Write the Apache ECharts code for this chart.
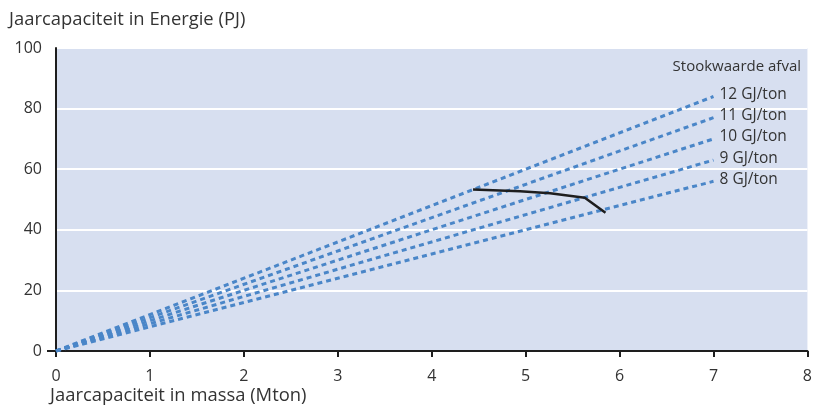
<!DOCTYPE html>
<html><head><meta charset="utf-8">
<script src="https://cdn.jsdelivr.net/npm/echarts@6/dist/echarts.min.js"></script>
<style>html,body{margin:0;padding:0;background:#fff}#c{width:815px;height:407px}</style>
</head><body><div id="c"></div>
<script>
// Stookwaarde lines (Mton, PJ)
const heatValues = ['12 GJ/ton','11 GJ/ton','10 GJ/ton','9 GJ/ton','8 GJ/ton'];
const line12 = [[0,0],[7,84]];
const line11 = [[0,0],[7,77]];
const line10 = [[0,0],[7,70]];
const line9  = [[0,0],[7,63]];
const line8  = [[0,0],[7,56]];
const capacityCurve = [[4.44,53.3],[4.94,52.7],[5.26,52.1],[5.63,50.6],[5.85,45.6]];
const xTicks = [0,1,2,3,4,5,6,7,8];
const yTicks = [0,20,40,60,80,100];

const FONT = 'Open Sans';
const lines = [line12,line11,line10,line9,line8];
const series = lines.map((d,i)=>({
  type:'line', data:d, symbol:'none', silent:true,
  lineStyle:{color:'#4a86c8', width:3, type:[5,4]},
  endLabel:{show:true, formatter:heatValues[i], color:'#333333', fontFamily:FONT, fontSize:15.5, offset:[2,-2], distance:4}
}));
series.push({type:'line', data:capacityCurve, symbol:'none', smooth:false,
  lineStyle:{color:'#1e1e1e', width:2.5}});

const chart = echarts.init(document.getElementById('c'));
chart.setOption({
  animation:false,
  grid:{left:56, right:7, top:48, bottom:56, show:true, backgroundColor:'#d7dff0', borderWidth:0},
  xAxis:{type:'value', min:0, max:8, interval:1,
    axisLine:{show:true, lineStyle:{color:'#1e1e1e', width:2}},
    axisTick:{show:true, length:6, lineStyle:{color:'#1e1e1e', width:2}},
    axisLabel:{color:'#333333', fontFamily:FONT, fontSize:16, margin:17, formatter:v=>xTicks.includes(v)?String(v):''},
    splitLine:{show:false},
    name:'Jaarcapaciteit in massa (Mton)', nameLocation:'start', nameGap:0,
    nameTextStyle:{color:'#333333', fontFamily:FONT, fontSize:18.4, align:'left', verticalAlign:'top', padding:[36,0,0,-6]}
  },
  yAxis:{type:'value', min:0, max:100, interval:20,
    axisLine:{show:true, lineStyle:{color:'#1e1e1e', width:2}},
    axisTick:{show:false},
    axisLabel:{color:'#333333', fontFamily:FONT, fontSize:16, margin:14, formatter:v=>yTicks.includes(v)?String(v):''},
    splitLine:{show:true, lineStyle:{color:'#ffffff', width:2}},
    name:'Jaarcapaciteit in Energie (PJ)', nameLocation:'end', nameGap:28,
    nameTextStyle:{color:'#333333', fontFamily:FONT, fontSize:18.4, align:'left', verticalAlign:'middle', padding:[0,0,0,-47]}
  },
  series:series
});
// small stub of the x-axis line left of the y-axis at zero, and legend title
const p0 = chart.convertToPixel({gridIndex:0},[0,0]);
chart.setOption({graphic:[
  {type:'line', shape:{x1:p0[0]-9, y1:p0[1], x2:p0[0], y2:p0[1]}, style:{stroke:'#1e1e1e', lineWidth:2}},
  {type:'text', right:14, top:59, style:{text:'Stookwaarde afval', fill:'#333333', font:'15px "Open Sans"'}}
]});
</script></body></html>
